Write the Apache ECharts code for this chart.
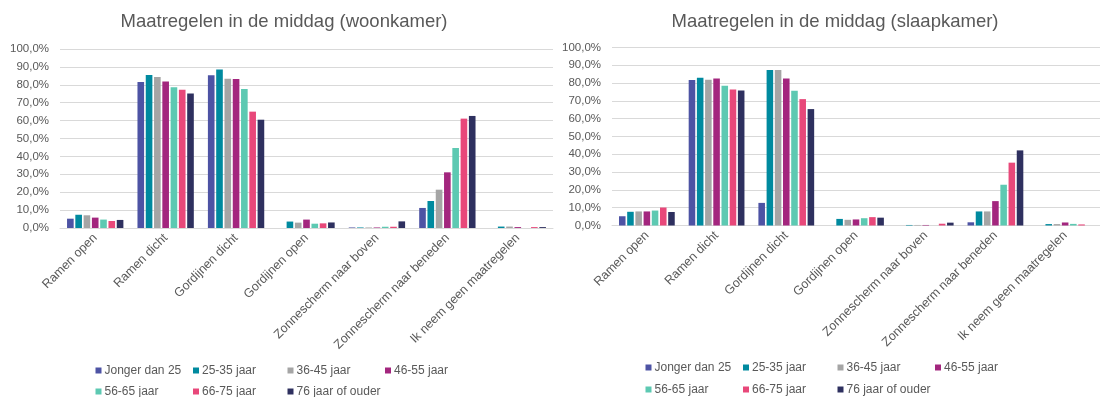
<!DOCTYPE html>
<html>
<head>
<meta charset="utf-8">
<script src="https://cdn.jsdelivr.net/npm/echarts@6/dist/echarts.min.js"></script>
<style>
  html, body { margin: 0; padding: 0; background: #ffffff; }
  #chart { width: 1100px; height: 397px; }
</style>
</head>
<body>
<div id="chart"></div>
<script>
// Categories (measures taken in the afternoon)
const categories = [
  'Ramen open',
  'Ramen dicht',
  'Gordijnen dicht',
  'Gordijnen open',
  'Zonnescherm naar boven',
  'Zonnescherm naar beneden',
  'Ik neem geen maatregelen'
];

// Age groups
const ageGroups = [
  'Jonger dan 25',
  '25-35 jaar',
  '36-45 jaar',
  '46-55 jaar',
  '56-65 jaar',
  '66-75 jaar',
  '76 jaar of ouder'
];

const groupColors = ['#4D53A4', '#008A9F', '#A5A5A5', '#A3267E', '#5DC9B2', '#E8487A', '#2E305F'];

// Living room (woonkamer), percentages per age group
const woonJonger  = [5.2, 81.6, 85.3, 0.0, 0.3, 11.2, 0.0];
const woon25_35   = [7.4, 85.5, 88.6, 3.6, 0.3, 15.1, 0.8];
const woon36_45   = [7.1, 84.4, 83.4, 3.0, 0.3, 21.4, 0.8];
const woon46_55   = [5.8, 81.8, 83.2, 4.7, 0.3, 31.1, 0.5];
const woon56_65   = [4.7, 78.6, 77.7, 2.4, 0.7, 44.7, 0.0];
const woon66_75   = [3.9, 77.3, 65.0, 2.6, 0.7, 61.1, 0.5];
const woon76plus  = [4.5, 75.2, 60.5, 3.1, 3.7, 62.6, 0.5];

// Bedroom (slaapkamer), percentages per age group
const slaapJonger = [5.2, 81.7, 12.7, 0.0, 0.0, 1.8, 0.0];
const slaap25_35  = [7.7, 83.0, 87.3, 3.7, 0.3, 7.9, 0.8];
const slaap36_45  = [7.9, 81.9, 87.3, 3.2, 0.3, 7.9, 0.8];
const slaap46_55  = [7.9, 82.6, 82.6, 3.4, 0.3, 13.7, 1.7];
const slaap56_65  = [8.4, 78.5, 75.7, 4.1, 0.0, 22.9, 0.9];
const slaap66_75  = [10.1, 76.4, 71.0, 4.7, 1.0, 35.3, 0.6];
const slaap76plus = [7.6, 75.9, 65.4, 4.4, 1.6, 42.2, 0.0];

// Value axis tick labels
const yMin = 0;
const yMax = 100;
const yStep = 10;

const woonSeries  = [woonJonger, woon25_35, woon36_45, woon46_55, woon56_65, woon66_75, woon76plus];
const slaapSeries = [slaapJonger, slaap25_35, slaap36_45, slaap46_55, slaap56_65, slaap66_75, slaap76plus];

const textColor = '#595959';
const gridColor = '#D9D9D9';
const fontFamily = 'Liberation Sans, Arial, sans-serif';

function pct(v) {
  return v.toFixed(1).replace('.', ',') + '%';
}

function makeXAxis(gridIndex) {
  return {
    type: 'category',
    gridIndex: gridIndex,
    data: categories,
    axisLine: { show: true, lineStyle: { color: gridColor, width: 1 } },
    axisTick: { show: false },
    axisLabel: {
      rotate: 45,
      interval: 0,
      margin: 8,
      color: textColor,
      fontFamily: fontFamily,
      fontSize: 12.5
    }
  };
}

function makeYAxis(gridIndex) {
  return {
    type: 'value',
    gridIndex: gridIndex,
    min: yMin,
    max: yMax,
    interval: yStep,
    axisLine: { show: false },
    axisTick: { show: false },
    splitLine: { lineStyle: { color: gridColor, width: 1 } },
    axisLabel: {
      margin: 11,
      color: textColor,
      fontFamily: fontFamily,
      fontSize: 11.5,
      formatter: pct
    }
  };
}

function makeSeries(dataSets, axisIndex) {
  return dataSets.map((d, i) => ({
    name: ageGroups[i],
    type: 'bar',
    xAxisIndex: axisIndex,
    yAxisIndex: axisIndex,
    data: d,
    barGap: '25%',
    barCategoryGap: '20%',
    itemStyle: { color: groupColors[i] },
    emphasis: { disabled: true }
  }));
}

// Legend laid out as a 4-column grid, one legend component per entry
const legendCols = [
  [95.5, 193, 287.5, 385],
  [645.5, 743, 837.5, 935]
];
const legendRows = [
  [364.5, 385.5],
  [361.5, 383.5]
];

const legends = [];
[0, 1].forEach(c => {
  ageGroups.forEach((name, i) => {
    const row = i < 4 ? 0 : 1;
    const col = i % 4;
    legends.push({
      data: [name],
      left: legendCols[c][col],
      top: legendRows[c][row],
      padding: 0,
      icon: 'rect',
      itemWidth: 6,
      itemHeight: 6,
      selectedMode: false,
      textStyle: {
        color: textColor,
        fontFamily: fontFamily,
        fontSize: 12,
        padding: [0, 0, 0, -2]
      }
    });
  });
});

const titleStyle = {
  color: textColor,
  fontFamily: fontFamily,
  fontSize: 18.5,
  fontWeight: 'normal'
};

const option = {
  backgroundColor: '#ffffff',
  animation: false,
  title: [
    { text: 'Maatregelen in de middag (woonkamer)', left: 284, top: 12, textAlign: 'center', padding: 0, textStyle: titleStyle },
    { text: 'Maatregelen in de middag (slaapkamer)', left: 835, top: 12, textAlign: 'center', padding: 0, textStyle: titleStyle }
  ],
  legend: legends,
  grid: [
    { left: 60, top: 49, width: 493, height: 179 },
    { left: 612, top: 47.5, width: 491, height: 178 }
  ],
  xAxis: [makeXAxis(0), makeXAxis(1)],
  yAxis: [makeYAxis(0), makeYAxis(1)],
  series: makeSeries(woonSeries, 0).concat(makeSeries(slaapSeries, 1))
};

const chart = echarts.init(document.getElementById('chart'), null, { renderer: 'canvas' });
chart.setOption(option);
</script>
</body>
</html>
